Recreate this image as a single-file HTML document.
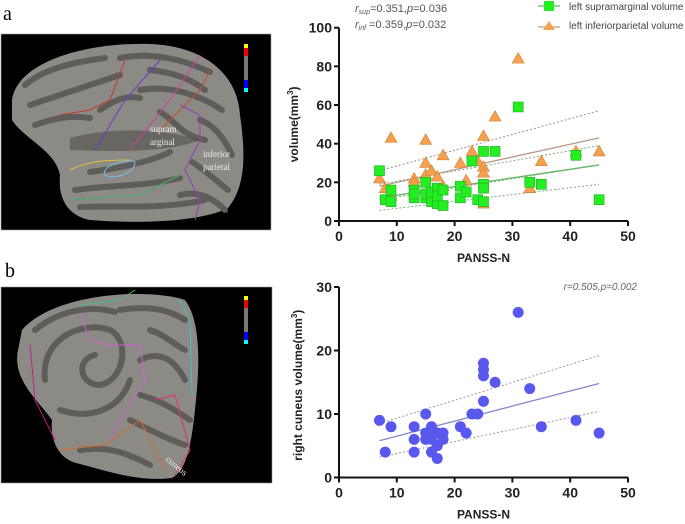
<!DOCTYPE html>
<html><head><meta charset="utf-8"><style>
body{margin:0;background:#fff;width:685px;height:524px;overflow:hidden;font-family:"Liberation Sans",sans-serif}
svg{position:absolute;left:0;top:0}
</style></head><body>
<svg id="s" width="685" height="524" xmlns="http://www.w3.org/2000/svg">
<text x="3" y="20" font-family="Liberation Serif" font-size="20">a</text>
<text x="5" y="277" font-family="Liberation Serif" font-size="20">b</text>
<g>
<rect x="1" y="34" width="270" height="196" fill="#000" stroke="#999" stroke-width="0.6"/>
<path d="M12 100 C18 60 90 42 150 44 C205 46 238 75 240 115 C245 150 247 185 228 208 C200 222 140 224 90 220 C65 215 58 195 60 175 C55 150 25 140 12 120 Z" fill="#8c8a84"/>
<g stroke="#5e5d59" stroke-width="6" fill="none" stroke-linecap="round">
<path d="M25 85 C45 68 75 62 105 58"/><path d="M30 105 C60 95 90 85 120 75"/><path d="M120 58 C150 52 180 58 210 72"/>
<path d="M140 90 C170 85 200 95 222 110"/><path d="M75 190 C110 185 150 186 180 178"/><path d="M80 207 C120 205 160 210 205 200"/>
<path d="M90 172 C120 168 150 162 170 152"/><path d="M192 162 C205 170 215 180 228 190"/><path d="M160 112 C175 120 180 135 205 140"/>
<path d="M35 125 C55 118 70 115 90 118"/><path d="M150 70 C170 72 190 78 205 90"/><path d="M200 120 C215 125 225 140 232 155"/>
<path d="M100 110 C115 100 125 95 140 98"/><path d="M180 195 C200 190 215 200 225 210"/>
</g>
<path d="M70 138 C100 130 150 125 200 140 C170 152 120 152 70 150 Z" fill="#4f4e4a" opacity="0.6"/>
<g fill="none" stroke-width="1">
<path d="M60 115 L90 110 L110 100 L125 60" stroke="#c0392b"/><path d="M95 150 L125 100 L160 60" stroke="#6a3ad0"/>
<path d="M130 150 L170 100 L200 55" stroke="#d040a0"/><path d="M160 130 L185 105 L200 90 L210 70" stroke="#c85020"/>
<path d="M180 105 L200 115 L200 140 L185 170 L200 200 L195 220" stroke="#9040c0"/><path d="M70 170 C90 160 110 160 130 160" stroke="#e0c040"/>
<path d="M105 175 C100 165 130 158 135 162 C135 175 110 180 105 175 Z" stroke="#70c0e0"/><path d="M70 200 L140 195 L180 175" stroke="#40b070"/>
</g>
<rect x="244" y="44" width="4" height="4" fill="#ff0"/><rect x="244" y="48" width="4" height="8" fill="#e00"/><rect x="244" y="56" width="4" height="24" fill="#777"/><rect x="244" y="80" width="4" height="8" fill="#00f"/><rect x="244" y="88" width="4" height="4" fill="#0ff"/>
<text x="150" y="132" font-family="Liberation Serif" font-size="9" fill="#eee">supram</text><text x="150" y="145" font-family="Liberation Serif" font-size="9" fill="#eee">arginal</text>
<text x="203" y="157" font-family="Liberation Serif" font-size="9" fill="#eee">inferior</text><text x="203" y="170" font-family="Liberation Serif" font-size="9" fill="#eee">parietal</text>
</g>
<g>
<rect x="1" y="287" width="271" height="196" fill="#000" stroke="#999" stroke-width="0.6"/>
<path d="M22 330 C55 292 150 288 185 300 C200 320 200 360 196 400 C192 440 188 470 172 478 C140 482 110 472 80 464 C58 460 50 440 52 420 C38 400 12 380 18 350 Z" fill="#8c8a84"/>
<g stroke="#5e5d59" stroke-width="6" fill="none" stroke-linecap="round">
<path d="M45 380 C40 340 80 320 110 330 C130 340 125 380 100 385 C80 385 75 360 95 355"/><path d="M60 410 C90 420 120 410 130 380"/>
<path d="M120 310 C150 305 170 310 185 320"/><path d="M140 360 C160 350 175 360 185 380"/><path d="M130 420 C150 430 170 440 185 445"/>
<path d="M80 450 C110 445 130 455 150 465"/><path d="M35 330 C60 310 90 305 115 312"/><path d="M150 330 C165 335 175 345 185 350"/>
<path d="M140 395 C160 400 175 410 190 420"/>
</g>
<g fill="none" stroke-width="1">
<path d="M80 305 L120 300 L135 290" stroke="#40c080"/><path d="M80 315 L90 340 L110 345 L140 345 L145 380 L120 420 L110 440" stroke="#d060d0"/>
<path d="M155 400 L175 395 L190 450 L175 475" stroke="#e03070"/><path d="M60 450 L105 445 L140 420 L165 470" stroke="#d07030"/>
<path d="M180 300 L190 320 L192 395" stroke="#40c0c0"/><path d="M30 345 L35 400 L55 440" stroke="#c02080"/>
</g>
<rect x="244" y="296" width="4" height="4" fill="#ff0"/><rect x="244" y="300" width="4" height="8" fill="#e00"/><rect x="244" y="308" width="4" height="24" fill="#777"/><rect x="244" y="332" width="4" height="8" fill="#00f"/><rect x="244" y="340" width="4" height="4" fill="#0ff"/>
<text x="165" y="460" font-family="Liberation Serif" font-size="9" fill="#eee" transform="rotate(40 165 460)">cuneus</text>
</g>
<g id="c1"></g>
<g id="c2"></g>
</svg>
<script>
const xTicks=[0,10,20,30,40,50];
const yTicksTop=[0,20,40,60,80,100];
const yTicksBot=[0,10,20,30];
const supX=[7,8,9,9,13,13,13,15,15,15,16,16,17,17,17,18,18,21,21,22,23,24,25,25,25,25,27,31,33,35,41,45];
const supY=[26,11,16,10,12,16,14,20,12,14,10,15,17,9,13,16,8,18,12,15,31,11,36,19,17,10,36,59,20,19,34,11];
const infX=[7,8,9,9,13,13,15,15,15,16,17,18,18,21,22,23,24,25,25,25,25,27,31,33,35,41,45];
const infY=[22,17,43,13,22,20,42,30,24,26,23,34,18,30,21,36,31,44,28,25,9,54,84,17,31,36,36];
const supFit=[12,29], supLo=[5.5,19], supHi=[19,39];
const infFit=[18,43], infLo=[11,29], infHi=[26,57];
const cunX=[7,8,9,13,13,13,15,15,15,16,16,16,16,17,17,17,18,18,21,22,23,24,25,25,25,25,27,31,33,35,41,45];
const cunY=[9,4,8,8,6,4,10,7,6,8,7,6,4,7,5,3,7,6,8,7,10,10,18,17,16,12,15,26,14,8,9,7];
const cunFit=[5.8,14.8], cunLo=[3.2,10.4], cunHi=[8.5,19.2];
const fitX=[7,45];
const NS="http://www.w3.org/2000/svg";
function mk(p,t,a){const e=document.createElementNS(NS,t);for(const k in a)e.setAttribute(k,a[k]);p.appendChild(e);return e;}
function axes(g,sx,sy,yt,x0,x1,y0,y1){
  const ax=mk(g,'path',{d:`M${x0} ${y1} V${y0} H${x1}`,stroke:'#111','stroke-width':2,fill:'none'});
  
  xTicks.forEach(v=>{mk(g,'line',{x1:sx(v),x2:sx(v),y1:y0,y2:y0+5,stroke:'#111','stroke-width':2});
    const t=mk(g,'text',{x:sx(v),y:y0+20,'text-anchor':'middle','font-size':14,'font-weight':'bold',fill:'#222'});t.textContent=v;
    });
  yt.forEach(v=>{mk(g,'line',{x1:x0-5,x2:x0,y1:sy(v),y2:sy(v),stroke:'#111','stroke-width':2});
    const t=mk(g,'text',{x:x0-7,y:sy(v)+5,'text-anchor':'end','font-size':14,'font-weight':'bold',fill:'#222'});t.textContent=v;
    });
  const xl=mk(g,'text',{x:(x0+x1)/2,y:y0+41,'text-anchor':'middle','font-size':12,'font-weight':'bold',fill:'#222'});xl.textContent='PANSS-N';
  
}
function line(g,sx,sy,ys,col,dash,w,name){const l=mk(g,'line',{x1:sx(fitX[0]),y1:sy(ys[0]),x2:sx(fitX[1]),y2:sy(ys[1]),stroke:col,'stroke-width':w,'stroke-dasharray':dash||'none'});
  }
(function(){const g=document.getElementById('c1');
 const x0=339,x1=628,y0=221,y1=27.7;
 const sx=v=>x0+(x1-x0)*v/50, sy=v=>y0-(y0-y1)*v/100;
 axes(g,sx,sy,yTicksTop,x0,x1,y0,y1);
 const yl=mk(g,'text',{transform:`translate(298,${(y0+y1)/2}) rotate(-90)`,'text-anchor':'middle','font-size':12,'font-weight':'bold',fill:'#222'});
 yl.innerHTML='volume(mm<tspan font-size="8" dy="-5">3</tspan><tspan dy="5">)</tspan>';
 
 line(g,sx,sy,infLo,'#8a9a78','2 2',1,'ci-inf-lower');line(g,sx,sy,infHi,'#8a9a78','2 2',1,'ci-inf-upper');
 line(g,sx,sy,supLo,'#7aaa78','2 2',1,'ci-sup-lower');line(g,sx,sy,supHi,'#7aaa78','2 2',1,'ci-sup-upper');
 line(g,sx,sy,infFit,'#b89a88','',1.3,'fit-line-inf');line(g,sx,sy,supFit,'#66b866','',1.3,'fit-line-sup');
 infX.forEach((x,i)=>{const cx=sx(x),cy=sy(infY[i]);const p=mk(g,'path',{d:`M${cx} ${cy-6}L${cx+6} ${cy+4.5}L${cx-6} ${cy+4.5}Z`,fill:'#f5a050',stroke:'#d08030','stroke-width':0.6});
  });
 supX.forEach((x,i)=>{const r=mk(g,'rect',{x:sx(x)-5,y:sy(supY[i])-5,width:10,height:10,fill:'#22ee22',stroke:'#2a2','stroke-width':0.6});
  });
 const a=mk(g,'text',{x:355,y:12,'font-size':11,fill:'#555'});a.innerHTML='<tspan font-style="italic">r</tspan><tspan font-size="7" dy="2" font-style="italic">sup</tspan><tspan dy="-2">=0.351,</tspan><tspan font-style="italic">p</tspan>=0.036';
 
 const b=mk(g,'text',{x:355,y:28,'font-size':11,fill:'#555'});b.innerHTML='<tspan font-style="italic">r</tspan><tspan font-size="7" dy="2" font-style="italic">inf</tspan><tspan dy="-2"> =0.359,</tspan><tspan font-style="italic">p</tspan>=0.032';
 
 const l1=mk(g,'g',{});
 mk(l1,'line',{x1:538,x2:560,y1:6,y2:6,stroke:'#55c055','stroke-width':1.2});mk(l1,'rect',{x:544,y:1,width:10,height:10,fill:'#22ee22'});
 mk(l1,'text',{x:569,y:10,'font-size':10,fill:'#444'}).textContent='left supramarginal volume';
 const l2=mk(g,'g',{});
 mk(l2,'line',{x1:538,x2:560,y1:27,y2:27,stroke:'#b89a88','stroke-width':1.2});mk(l2,'path',{d:'M549 21L555 30L543 30Z',fill:'#f5a050'});
 mk(l2,'text',{x:569,y:29,'font-size':10,fill:'#444'}).textContent='left inferiorparietal volume';
})();
(function(){const g=document.getElementById('c2');
 const x0=339,x1=628,y0=477.5,y1=287;
 const sx=v=>x0+(x1-x0)*v/50, sy=v=>y0-(y0-y1)*v/30;
 axes(g,sx,sy,yTicksBot,x0,x1,y0,y1);
 const yl=mk(g,'text',{transform:`translate(302,${(y0+y1)/2+3}) rotate(-90)`,'text-anchor':'middle','font-size':12,'font-weight':'bold',fill:'#222'});
 yl.innerHTML='right cuneus volume(mm<tspan font-size="8" dy="-5">3</tspan><tspan dy="5">)</tspan>';
 
 line(g,sx,sy,cunLo,'#999','2 2',1,'ci-lower');line(g,sx,sy,cunHi,'#999','2 2',1,'ci-upper');
 line(g,sx,sy,cunFit,'#8888cc','',1.3,'fit-line');
 cunX.forEach((x,i)=>{const c=mk(g,'circle',{cx:sx(x),cy:sy(cunY[i]),r:5.5,fill:'#5858ee'});
  });
 const a=mk(g,'text',{x:637,y:290,'text-anchor':'end','font-size':10,'font-style':'italic',fill:'#666'});a.textContent='r=0.505,p=0.002';
 
})();
</script>
</body></html>
